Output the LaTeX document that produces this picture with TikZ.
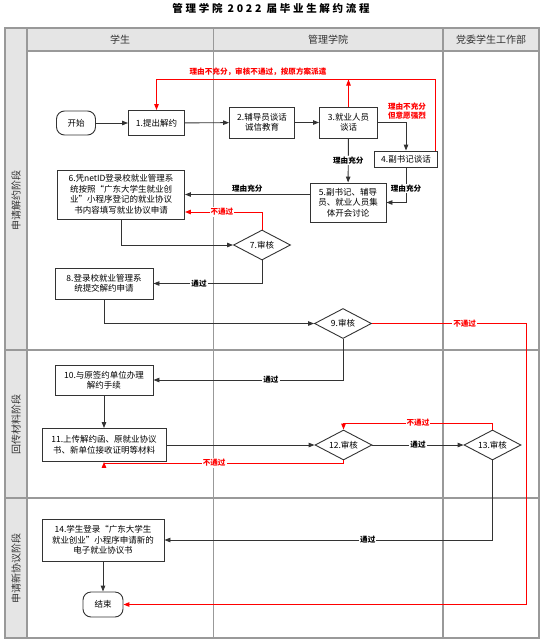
\documentclass[tikz,border=0pt]{standalone}
\usepackage{fontspec}
\setmainfont{Noto Sans CJK SC}
\newfontfamily\titlefont[LetterSpace=26]{Noto Sans CJK SC}
\usetikzlibrary{shapes.geometric,arrows.meta,positioning}

\tikzset{
 txt/.style={font=\fontsize{8.5}{10.5}\selectfont},
 box/.style={draw=black!80, line width=0.9pt, fill=white, align=center, txt, inner sep=2pt},
 term/.style={box, rounded corners=8pt},
 check/.style={box, diamond, aspect=1.9, inner sep=0.5pt, minimum width=57pt, minimum height=30pt},
 flow/.style={draw=black!80, line width=0.9pt, -{Triangle[length=6pt,width=4.5pt]}},
 back/.style={flow, draw=red, line width=1pt},
 lbl/.style={font=\bfseries\fontsize{7.6}{9}\selectfont, fill=white, inner sep=1pt},
 nolbl/.style={lbl, text=red},
 lane/.style={draw=black!40, line width=1.1pt},
 head/.style={font=\fontsize{10}{12}\selectfont, text=black!80}
}

\begin{document}
\begin{tikzpicture}[x=1pt,y=-1pt]
 \useasboundingbox (0,0) rectangle (542,643);
 % title
 \node (title) at (271,8) {\titlefont\bfseries\fontsize{10.5}{12}\selectfont 管理学院 2022 届毕业生解约流程};

 % swimlanes
 \fill[black!10] (5,28) rectangle (539,51);
 \fill[black!10] (5,28) rectangle (27,638);
 \draw[lane] (5,28) rectangle (539,638);
 \draw[lane] (27,28) -- (27,638);
 \draw[lane] (27,51) -- (539,51);
 \foreach \x in {213.5,443} {
  \draw[lane] (\x,28) -- (\x,638);
 }
 \foreach \y in {350,498} {
  \draw[lane] (5,\y) -- (539,\y);
 }
 \node[head] (h1) at (120,40) {学生};
 \node[head] (h2) at (328,40) {管理学院};
 \node[head] (h3) at (491,40) {党委学生工作部};
 \foreach \y/\t in {200/申请解约阶段,424/回传材料阶段,568/申请新协议阶段} {
  \node[head, rotate=90] at (16,\y) {\t};
 }

 % nodes
 \node[term, minimum width=39pt, minimum height=24pt] (start) at (76,123) {开始};
 \node[box, minimum width=56pt, minimum height=25pt] (n1) at (156.5,123) {1.提出解约};
 \node[box, minimum width=65pt, minimum height=31pt] (n2) at (262,122.5) {2.辅导员谈话\\诚信教育};
 \node[box, minimum width=58pt, minimum height=31pt] (n3) at (348.5,122.5) {3.就业人员\\谈话};
 \node[box, minimum width=63pt, minimum height=16pt] (n4) at (406,159) {4.副书记谈话};
 \node[box, minimum width=76pt, minimum height=39pt] (n5) at (348,202.5) {5.副书记、辅导\\员、就业人员集\\体开会讨论};
 \node[box, minimum width=127pt, minimum height=49pt] (n6) at (121,194.5) {6.凭netID登录校就业管理系\\统按照“广东大学生就业创\\业”小程序登记的就业协议\\书内容填写就业协议申请};
 \node[check] (n7) at (262,245) {7.审核};
 \node[box, minimum width=98pt, minimum height=31pt] (n8) at (104,283.5) {8.登录校就业管理系\\统提交解约申请};
 \node[check] (n9) at (343,323.5) {9.审核};
 \node[box, minimum width=98pt, minimum height=30pt] (n10) at (104,380) {10.与原签约单位办理\\解约手续};
 \node[box, minimum width=124pt, minimum height=33pt] (n11) at (104,445) {11.上传解约函、原就业协议\\书、新单位接收证明等材料};
 \node[check] (n12) at (343.5,445) {12.审核};
 \node[check] (n13) at (492.5,445) {13.审核};
 \node[box, minimum width=122pt, minimum height=42pt] (n14) at (103,540) {14.学生登录“广东大学生\\就业创业”小程序申请新的\\电子就业协议书};
 \node[term, minimum width=40pt, minimum height=25pt] (end) at (103,604.5) {结束};

 % red turning points
 \coordinate (rtop) at (348.5,79.5);
 \coordinate (rdown) at (435.5,79.5);
 \coordinate (rside) at (526.5,323.5);
 \node[nolbl, fill=none] (rmsg) at (258,71.5) {理由不充分，审核不通过，按原方案派遣};
 \node[nolbl, fill=none, align=center] (rwish) at (407,111) {理由不充分\\但意愿强烈};

 % connectors
 \draw[flow] (start) -- (n1);
 \draw[flow] (n1) -- (n2);
 \draw[flow] (n2) -- (n3);
 \draw[flow] (n3) -| (n4);
 \draw[flow] (n3) -- node[lbl] {理由充分} (n5);
 \draw[flow] (n4) |- node[lbl, pos=0.3] {理由充分} (n5);
 \draw[flow] (n5.west |- n6) -- node[lbl, above=1pt, fill=none] {理由充分} (n6);
 \draw[flow] (n6) |- (n7);
 \draw[flow] (n7) |- node[lbl, pos=0.79] {通过} (n8);
 \draw[flow] (n8) |- (n9);
 \draw[flow] (n9) |- node[lbl, pos=0.69] {通过} (n10);
 \draw[flow] (n10) -- (n11);
 \draw[flow] (n11) -- (n12);
 \draw[flow] (n12) -- node[lbl] {通过} (n13);
 \draw[flow] (n13) |- node[lbl, pos=0.69] {通过} (n14);
 \draw[flow] (n14) -- (end);

 \draw[back] (n3) -- (rtop);
 \draw[back] (n4.north -| rdown) -- (rdown) -| (n1);
 \draw[back] (n7) |- node[nolbl, pos=0.76] {不通过} ([yshift=-17.5pt]n6.east);
 \draw[back] (n9) -- node[nolbl, pos=0.6] {不通过} (rside) |- (end);
 \draw[back] (n13) -- ++(0,-22) -| node[nolbl, pos=0.25] {不通过} (n12);
 \draw[back] (n12) -- ++(0,18) -| node[nolbl, pos=0.27] {不通过} (n11);
\end{tikzpicture}
\end{document}
